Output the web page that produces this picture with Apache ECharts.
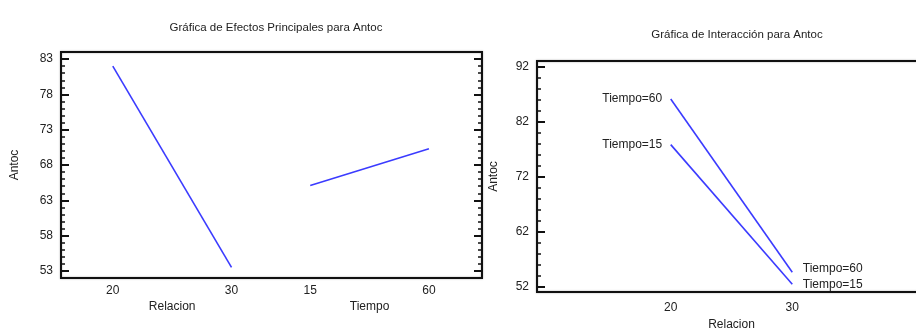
<!DOCTYPE html>
<html>
<head>
<meta charset="utf-8">
<script src="https://cdn.jsdelivr.net/npm/echarts@6/dist/echarts.min.js"></script>
<style>
  html, body { margin: 0; padding: 0; background: #fff; }
  #chart { width: 916px; height: 329px; }
</style>
</head>
<body>
<div id="chart"></div>
<script>
// Main effects: mean Antoc at each factor level
const relacionLevels = ['20', '30'];
const relacionMeans = [82.0, 53.5];
const tiempoLevels = ['15', '60'];
const tiempoMeans = [65.1, 70.3];

// Interaction: Relacion on the x axis, one line per Tiempo level
const relacionValues = [20, 30];
const tiempo15Means = [77.8, 52.4];
const tiempo60Means = [86.1, 54.6];

// Tick labels
const mainTicks = [53, 58, 63, 68, 73, 78, 83];
const interTicks = [52, 62, 72, 82, 92];

// ---- layout ----
const FONT = "'Liberation Sans Narrow', 'Liberation Sans', Arial, sans-serif";
const TXT = '#222';
const LINE = '#3b3bff';
const FS = 12;

// Main-effects panel: each factor occupies one band of a 0..10 position axis
const factorCenters = [2.64, 7.33];
const levelHalfSpan = 1.41;
const factors = [
  { name: 'Relacion', levels: relacionLevels, means: relacionMeans },
  { name: 'Tiempo', levels: tiempoLevels, means: tiempoMeans }
];
const levelPos = [];
const levelText = {};
factors.forEach((f, i) => {
  f.pos = [factorCenters[i] - levelHalfSpan, factorCenters[i] + levelHalfSpan];
  f.pos.forEach((p, j) => { levelPos.push(p); levelText[p] = f.levels[j]; });
});
const nameText = {};
factors.forEach((f, i) => { nameText[factorCenters[i]] = f.name; });

function range(a, b, step) {
  const out = [];
  for (let v = a; v <= b + 1e-9; v += step) out.push(+v.toFixed(4));
  return out;
}
const mainMinor = range(52, 84, 1).filter(v => mainTicks.indexOf(v) < 0);
const interMinor = range(52, 92, 2).filter(v => interTicks.indexOf(v) < 0);

const labelStyle = { color: TXT, fontFamily: FONT, fontSize: FS };

function tickAxis(grid, min, max, values, len, width, position, showLabels) {
  return {
    type: 'value', gridIndex: grid, min: min, max: max, position: position,
    splitLine: { show: false },
    axisLine: { show: false },
    axisTick: { show: true, inside: true, length: len, customValues: values,
                lineStyle: { color: '#111', width: width } },
    axisLabel: showLabels
      ? Object.assign({ show: true, margin: 8, customValues: values }, labelStyle)
      : { show: false }
  };
}

const chart = echarts.init(document.getElementById('chart'), null, { renderer: 'canvas' });

// One interaction line, labelled at both ends; endShift nudges the right-hand label vertically
function interSeries(name, values, endShift) {
  return {
    type: 'line', name: name, xAxisIndex: 2, yAxisIndex: 6,
    symbol: 'circle', symbolSize: 1, showSymbol: true, silent: true,
    itemStyle: { color: 'rgba(0,0,0,0)' },
    lineStyle: { color: LINE, width: 1.6 },
    label: { show: true, color: TXT, fontFamily: FONT, fontSize: FS, formatter: name },
    labelLayout: p => ({ hideOverlap: false, dy: p.dataIndex === 1 ? endShift : 0 }),
    data: relacionValues.map((x, i) => ({
      value: [x, values[i]],
      label: {
        show: true,
        position: i === 0 ? 'left' : 'right',
        distance: i === 0 ? 8 : 10
      }
    }))
  };
}

chart.setOption({
  animation: false,
  backgroundColor: '#fff',
  title: [
    { text: 'Gráfica de Efectos Principales para Antoc', left: 271, top: 17, textAlign: 'center',
      textStyle: { color: TXT, fontFamily: FONT, fontSize: 11.5, fontWeight: 'normal' } },
    { text: 'Gráfica de Interacción para Antoc', left: 732, top: 24, textAlign: 'center',
      textStyle: { color: TXT, fontFamily: FONT, fontSize: 11.5, fontWeight: 'normal' } }
  ],
  grid: [
    { left: 61, top: 52, width: 421, height: 226, show: true, borderColor: '#111', borderWidth: 2,
      shadowColor: 'rgba(0,0,0,0.35)', shadowBlur: 2, outerBoundsMode: 'none', containLabel: false },
    { left: 537, top: 61, width: 389, height: 231, show: true, borderColor: '#111', borderWidth: 2,
      shadowColor: 'rgba(0,0,0,0.35)', shadowBlur: 2, outerBoundsMode: 'none', containLabel: false }
  ],
  xAxis: [
    { // level labels of both factors
      type: 'value', gridIndex: 0, min: 0, max: 10,
      splitLine: { show: false }, axisLine: { show: false }, axisTick: { show: false },
      axisLabel: Object.assign({ margin: 7, customValues: levelPos,
        formatter: v => levelText[v] || '' }, labelStyle)
    },
    { // factor names under each pair of levels
      type: 'value', gridIndex: 0, min: 0, max: 10, position: 'bottom', offset: 16,
      splitLine: { show: false }, axisLine: { show: false }, axisTick: { show: false },
      axisLabel: Object.assign({ margin: 7, customValues: factorCenters,
        formatter: v => nameText[v] || '' }, labelStyle)
    },
    { // interaction panel: Relacion
      type: 'value', gridIndex: 1, min: 9, max: 41,
      splitLine: { show: false }, axisLine: { show: false }, axisTick: { show: false },
      axisLabel: Object.assign({ margin: 10, customValues: relacionValues }, labelStyle),
      name: 'Relacion', nameLocation: 'middle', nameGap: 25,
      nameTextStyle: labelStyle
    }
  ],
  yAxis: [
    Object.assign(tickAxis(0, 52, 84, mainTicks, 8, 2, 'left', true), {
      name: 'Antoc', nameLocation: 'middle', nameGap: 40, nameRotate: 90, nameTextStyle: labelStyle
    }),
    tickAxis(0, 52, 84, mainMinor, 4, 1.5, 'left', false),
    tickAxis(0, 52, 84, mainTicks, 8, 2, 'right', false),
    tickAxis(0, 52, 84, mainMinor, 4, 1.5, 'right', false),
    Object.assign(tickAxis(1, 51, 93, interTicks, 8, 2, 'left', true), {
      name: 'Antoc', nameLocation: 'middle', nameGap: 37, nameRotate: 90, nameTextStyle: labelStyle
    }),
    tickAxis(1, 51, 93, interMinor, 4, 1.5, 'left', false),
    tickAxis(1, 51, 93, interTicks, 0, 0, 'left', false)
  ],
  series: [
    ...factors.map(f => ({
      type: 'line', name: f.name, xAxisIndex: 0, yAxisIndex: 0,
      symbol: 'none', silent: true,
      lineStyle: { color: LINE, width: 1.6 },
      data: f.pos.map((p, j) => [p, f.means[j]])
    })),
    interSeries('Tiempo=60', tiempo60Means, -4),
    interSeries('Tiempo=15', tiempo15Means, 0)
  ]
});
</script>
</body>
</html>
